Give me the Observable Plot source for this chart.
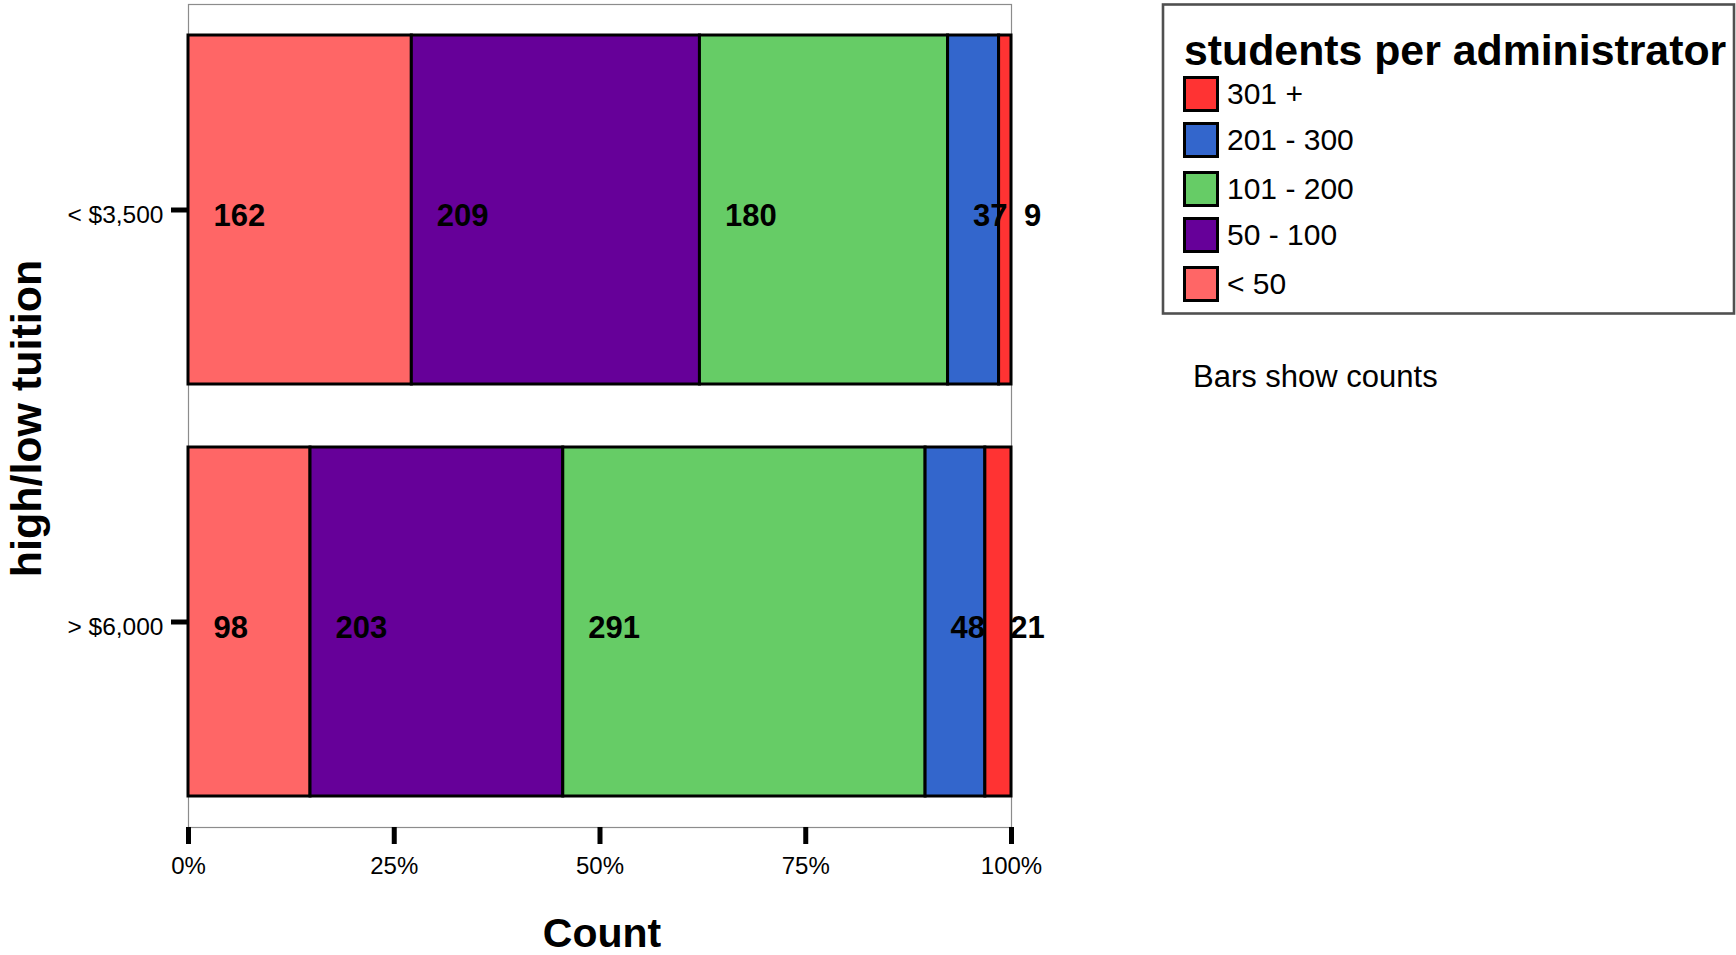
<!DOCTYPE html>
<html>
<head>
<meta charset="utf-8">
<script src="https://cdn.jsdelivr.net/npm/d3@7"></script>
<script src="https://cdn.jsdelivr.net/npm/@observablehq/plot@0.6"></script>
<style>
  html, body { margin: 0; padding: 0; background: #fff; overflow: hidden; }
  #wrap { position: relative; width: 1736px; height: 955px; overflow: hidden; font-family: "Liberation Sans", Arial, sans-serif; }
  #chart { position: absolute; left: 0; top: 0; }
  #legend { position: absolute; left: 0; top: 0; pointer-events: none; }
</style>
</head>
<body>
<div id="wrap">
  <div id="chart"></div>
  <svg id="legend" width="1736" height="955"></svg>
</div>
<script>
// ---- data ----
const tuitionGroups = ["< $3,500", "> $6,000"];
const adminBands = ["< 50", "50 - 100", "101 - 200", "201 - 300", "301 +"];
const bandColors = ["#FF6666", "#660099", "#66CC66", "#3366CC", "#FF3333"];
const countsLow = [162, 209, 180, 37, 9];
const countsHigh = [98, 203, 291, 48, 21];
const xTickValues = [0, 0.25, 0.5, 0.75, 1];
const legendOrder = ["301 +", "201 - 300", "101 - 200", "50 - 100", "< 50"];
const legendTitle = "students per administrator";
const noteText = "Bars show counts";
const xTitle = "Count";
const yTitle = "high/low tuition";

const rows = [];
adminBands.forEach((b, i) => {
  rows.push({tuition: tuitionGroups[0], band: b, count: countsLow[i]});
  rows.push({tuition: tuitionGroups[1], band: b, count: countsHigh[i]});
});

const FONT = "'Liberation Sans', Arial, sans-serif";
const W = 1160, H = 955;

const chart = Plot.plot({
  width: W,
  height: H,
  marginLeft: 188,
  marginRight: W - 1011,
  marginTop: 4,
  marginBottom: 128,
  style: {fontFamily: FONT, background: "white", overflow: "visible", color: "black"},
  x: {domain: [0, 1], label: null},
  y: {domain: tuitionGroups, paddingInner: 0.153, paddingOuter: 0.075, label: null},
  color: {domain: adminBands, range: bandColors},
  marks: [
    Plot.frame({stroke: "#8c8c8c", strokeWidth: 1.2}),
    Plot.barX(rows, Plot.stackX({
      offset: "normalize", order: adminBands,
      x: "count", y: "tuition", z: "band",
      fill: "band", stroke: "black", strokeWidth: 3
    })),
    Plot.text(rows, Plot.stackX1({
      offset: "normalize", order: adminBands,
      x: "count", y: "tuition", z: "band",
      text: d => String(d.count),
      textAnchor: "start", dx: 25, dy: 6,
      fontSize: 31, fontWeight: "bold", fill: "black"
    })),
    Plot.axisX({
      ticks: xTickValues, tickFormat: d3.format(".0%"),
      tickSize: 17, strokeWidth: 5, tickPadding: 12, fontSize: 24, label: null
    }),
    Plot.axisY({tickSize: 17, strokeWidth: 5, tickFormat: () => "", label: null}),
    Plot.axisY({tickSize: 0, tickPadding: 25, fontSize: 24.5, dy: 5, label: null}),
    Plot.text([xTitle], {
      text: d => d, frameAnchor: "bottom", dx: 2, dy: 106,
      fontSize: 41, fontWeight: "bold", lineAnchor: "middle"
    }),
    Plot.text([yTitle], {
      text: d => d, frameAnchor: "left", rotate: -90, textAnchor: "middle",
      fontSize: 43, fontWeight: "bold", lineAnchor: "middle"
    })
  ]
});
document.getElementById("chart").appendChild(chart);

// place the rotated y title like the reference (baseline at x = 40)
d3.select(chart).selectAll("text").each(function() {
  if (this.textContent === yTitle) {
    this.removeAttribute("x");
    this.removeAttribute("y");
    this.removeAttribute("dy");
    this.setAttribute("text-anchor", "middle");
    this.setAttribute("transform", "translate(40,418) rotate(-90)");
  }
});

// ---- legend ----
const colorOf = Object.fromEntries(adminBands.map((b, i) => [b, bandColors[i]]));
const lg = d3.select("#legend").style("font-family", FONT);
lg.append("rect")
  .attr("x", 1163).attr("y", 4.5).attr("width", 571).attr("height", 309)
  .attr("fill", "none").attr("stroke", "#505050").attr("stroke-width", 2.6);
lg.append("text")
  .attr("x", 1184).attr("y", 65)
  .attr("font-size", 42.8).attr("font-weight", "bold").attr("fill", "black")
  .text(legendTitle);
const tops = [76, 122, 171, 217, 266];
legendOrder.forEach((b, i) => {
  const top = tops[i];
  lg.append("rect")
    .attr("x", 1184.5).attr("y", top + 1.5).attr("width", 33).attr("height", 33)
    .attr("fill", colorOf[b]).attr("stroke", "black").attr("stroke-width", 3);
  lg.append("text")
    .attr("x", 1227).attr("y", top + 17).attr("dy", "0.35em")
    .attr("font-size", 30).attr("fill", "black")
    .text(b);
});
lg.append("text")
  .attr("x", 1193).attr("y", 376).attr("dy", "0.35em")
  .attr("font-size", 31).attr("fill", "black")
  .text(noteText);
</script>
</body>
</html>
